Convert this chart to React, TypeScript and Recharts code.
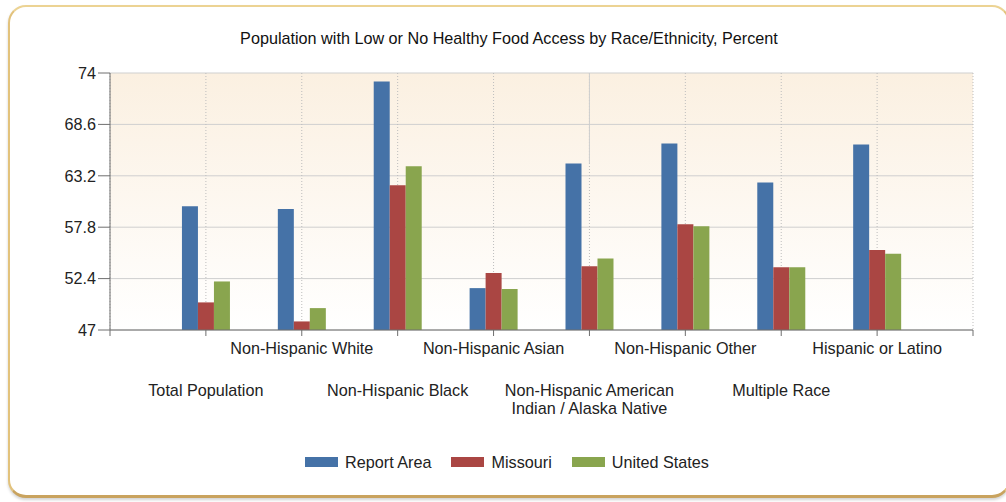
import React from 'react';
import { BarChart, Bar, XAxis, YAxis, CartesianGrid, Legend, ReferenceLine } from 'recharts';

const chartTitle = 'Population with Low or No Healthy Food Access by Race/Ethnicity, Percent';
const categories = [
  'Total Population',
  'Non-Hispanic White',
  'Non-Hispanic Black',
  'Non-Hispanic Asian',
  'Non-Hispanic American Indian / Alaska Native',
  'Non-Hispanic Other',
  'Multiple Race',
  'Hispanic or Latino',
];
const reportArea = [60.0, 59.7, 73.1, 51.4, 64.5, 66.6, 62.5, 66.5];
const missouri = [49.9, 47.9, 62.2, 53.0, 53.7, 58.1, 53.6, 55.4];
const unitedStates = [52.1, 49.3, 64.2, 51.3, 54.5, 57.9, 53.6, 55.0];
const yTicks = [47, 52.4, 57.8, 63.2, 68.6, 74];
const seriesKeys = ['reportArea', 'missouri', 'unitedStates'];
const seriesNames = ['Report Area', 'Missouri', 'United States'];
const seriesColors = ['#4572a7', '#aa4643', '#89a54e'];

const data = categories.map((name, i) => ({
  name,
  pos: i + 1,
  reportArea: reportArea[i],
  missouri: missouri[i],
  unitedStates: unitedStates[i],
}));
const xTicks = Array.from({ length: categories.length + 2 }, (_, i) => i);
// solid grid line at the 5th category, visible only above its tallest bar
const solidLinePos = 5;
const solidLineFrom = Math.max(reportArea[solidLinePos - 1], missouri[solidLinePos - 1], unitedStates[solidLinePos - 1]);

const FONT = '"Liberation Sans", Arial, sans-serif';
const FS = 16.2;
const TEXT = '#222222';
const AXIS = '#6e6e6e';

function wrap(text: string, maxChars: number): string[] {
  const words = text.split(' ');
  const lines: string[] = [];
  let cur = '';
  for (const w of words) {
    const next = cur ? cur + ' ' + w : w;
    if (next.length > maxChars && cur) {
      lines.push(cur);
      cur = w;
    } else {
      cur = next;
    }
  }
  if (cur) lines.push(cur);
  return lines;
}

const XTick = (props: any) => {
  const { x, y, payload } = props;
  const v = payload.value;
  if (v < 1 || v > categories.length) return null;
  const lines = wrap(categories[v - 1], 22);
  const upper = v % 2 === 0;
  const base = upper ? 16 : 58;
  return (
    <g>
      {lines.map((ln, k) => (
        <text
          key={k}
          x={x}
          y={y + base + k * 18}
          textAnchor="middle"
          fontFamily={FONT}
          fontSize={FS}
          fill={TEXT}
        >
          {ln}
        </text>
      ))}
    </g>
  );
};

const LegendContent = (props: any) => {
  const payload = [...(props.payload || [])].sort(
    (a: any, b: any) => seriesNames.indexOf(a.value) - seriesNames.indexOf(b.value)
  );
  return (
    <div
      style={{
        height: 20,
        display: 'flex',
        justifyContent: 'center',
        alignItems: 'center',
        fontFamily: FONT,
        fontSize: FS,
        color: TEXT,
        paddingLeft: 8,
      }}
    >
      {payload.map((p: any, i: number) => (
        <div key={i} style={{ display: 'flex', alignItems: 'center', marginLeft: i === 0 ? 0 : 20 }}>
          <span style={{ display: 'inline-block', width: 33, height: 10, background: p.color, marginRight: 7 }} />
          <span>{p.value}</span>
        </div>
      ))}
    </div>
  );
};

export default function App() {
  return (
    <div style={{ position: 'absolute', left: 0, top: 0, width: 1006, height: 502, overflow: 'hidden', background: '#ffffff' }}>
      <div
        style={{
          position: 'absolute',
          left: 8,
          top: 5,
          width: 1002,
          height: 493,
          boxSizing: 'border-box',
          borderStyle: 'solid',
          borderWidth: '2px 2px 3px 2px',
          borderColor: '#ecd393 #e2c27c #c9a35e #e2c27c',
          borderRadius: 18,
          boxShadow: '0 2px 3px rgba(0,0,0,0.18)',
          background: '#ffffff',
        }}
      />
      <div
        style={{
          position: 'absolute',
          left: 8,
          top: 30,
          width: 1002,
          textAlign: 'center',
          fontFamily: FONT,
          fontSize: FS,
          lineHeight: '16px',
          color: '#111111',
        }}
      >
        {chartTitle}
      </div>
      <div style={{ position: 'absolute', left: 0, top: 0 }}>
        <BarChart
          width={1006}
          height={502}
          data={data}
          margin={{ top: 73, right: 33, bottom: 30, left: 0 }}
          barGap={0}
        >
          <defs>
            <linearGradient id="plotBg" x1="0" y1="0" x2="0" y2="1">
              <stop offset="0%" stopColor="#fbf0e1" />
              <stop offset="100%" stopColor="#ffffff" />
            </linearGradient>
          </defs>
          <CartesianGrid
            horizontal={true}
            vertical={false}
            stroke="#cfcfcf"
            fill="url(#plotBg)"
            fillOpacity={1}
          />
          <CartesianGrid horizontal={false} vertical={true} stroke="#bdbdbd" strokeDasharray="1 2" />
          <ReferenceLine
            segment={[
              { x: solidLinePos, y: solidLineFrom },
              { x: solidLinePos, y: yTicks[yTicks.length - 1] },
            ]}
            stroke="#cfcfcf"
          />
          <XAxis
            type="number"
            dataKey="pos"
            domain={[0, categories.length + 1]}
            ticks={xTicks}
            interval={0}
            height={122}
            tickSize={6}
            axisLine={{ stroke: AXIS }}
            tickLine={{ stroke: AXIS }}
            tick={<XTick />}
          />
          <YAxis
            type="number"
            domain={[yTicks[0], yTicks[yTicks.length - 1]]}
            ticks={yTicks}
            interval={0}
            width={110}
            tickSize={12}
            tickMargin={2}
            axisLine={{ stroke: AXIS }}
            tickLine={{ stroke: AXIS }}
            tick={{ fontFamily: FONT, fontSize: FS, fill: TEXT }}
          />
          <Legend
            verticalAlign="bottom"
            align="center"
            content={<LegendContent />}
            wrapperStyle={{ left: 0, width: 1006 }}
          />
          {seriesKeys.map((k, i) => (
            <Bar
              key={k}
              dataKey={k}
              name={seriesNames[i]}
              fill={seriesColors[i]}
              barSize={16}
              isAnimationActive={false}
            />
          ))}
        </BarChart>
      </div>
    </div>
  );
}
